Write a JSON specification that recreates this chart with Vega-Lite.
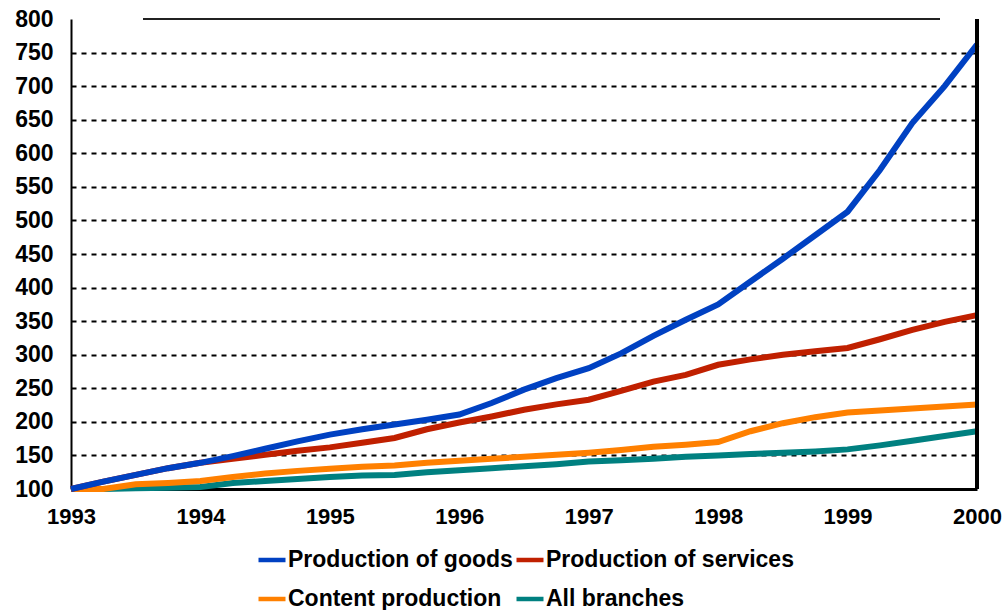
{
  "$schema": "https://vega.github.io/schema/vega-lite/v6.json",
  "width": 906,
  "height": 470,
  "autosize": "none",
  "padding": {"left": 71, "top": 19, "right": 30, "bottom": 121},
  "background": "white",
  "config": {
    "view": {"stroke": null},
    "font": "Liberation Sans"
  },
  "data": {
    "values": [
      {"year": 1993.00, "series": "All branches", "value": 100},
      {"year": 1993.25, "series": "All branches", "value": 100},
      {"year": 1993.50, "series": "All branches", "value": 101},
      {"year": 1993.75, "series": "All branches", "value": 102},
      {"year": 1994.00, "series": "All branches", "value": 103},
      {"year": 1994.25, "series": "All branches", "value": 109},
      {"year": 1994.50, "series": "All branches", "value": 112},
      {"year": 1994.75, "series": "All branches", "value": 115},
      {"year": 1995.00, "series": "All branches", "value": 118},
      {"year": 1995.25, "series": "All branches", "value": 120},
      {"year": 1995.50, "series": "All branches", "value": 121},
      {"year": 1995.75, "series": "All branches", "value": 125},
      {"year": 1996.00, "series": "All branches", "value": 128},
      {"year": 1996.25, "series": "All branches", "value": 131},
      {"year": 1996.50, "series": "All branches", "value": 134},
      {"year": 1996.75, "series": "All branches", "value": 137},
      {"year": 1997.00, "series": "All branches", "value": 141},
      {"year": 1997.25, "series": "All branches", "value": 143},
      {"year": 1997.50, "series": "All branches", "value": 145},
      {"year": 1997.75, "series": "All branches", "value": 148},
      {"year": 1998.00, "series": "All branches", "value": 150},
      {"year": 1998.25, "series": "All branches", "value": 152},
      {"year": 1998.50, "series": "All branches", "value": 154},
      {"year": 1998.75, "series": "All branches", "value": 156},
      {"year": 1999.00, "series": "All branches", "value": 159},
      {"year": 1999.25, "series": "All branches", "value": 165},
      {"year": 1999.50, "series": "All branches", "value": 172},
      {"year": 1999.75, "series": "All branches", "value": 179},
      {"year": 2000.00, "series": "All branches", "value": 186},

      {"year": 1993.00, "series": "Content production", "value": 100},
      {"year": 1993.25, "series": "Content production", "value": 100},
      {"year": 1993.50, "series": "Content production", "value": 107},
      {"year": 1993.75, "series": "Content production", "value": 109},
      {"year": 1994.00, "series": "Content production", "value": 112},
      {"year": 1994.25, "series": "Content production", "value": 118},
      {"year": 1994.50, "series": "Content production", "value": 123},
      {"year": 1994.75, "series": "Content production", "value": 127},
      {"year": 1995.00, "series": "Content production", "value": 130},
      {"year": 1995.25, "series": "Content production", "value": 133},
      {"year": 1995.50, "series": "Content production", "value": 135},
      {"year": 1995.75, "series": "Content production", "value": 139},
      {"year": 1996.00, "series": "Content production", "value": 142},
      {"year": 1996.25, "series": "Content production", "value": 145},
      {"year": 1996.50, "series": "Content production", "value": 148},
      {"year": 1996.75, "series": "Content production", "value": 151},
      {"year": 1997.00, "series": "Content production", "value": 154},
      {"year": 1997.25, "series": "Content production", "value": 158},
      {"year": 1997.50, "series": "Content production", "value": 163},
      {"year": 1997.75, "series": "Content production", "value": 166},
      {"year": 1998.00, "series": "Content production", "value": 170},
      {"year": 1998.25, "series": "Content production", "value": 186},
      {"year": 1998.50, "series": "Content production", "value": 198},
      {"year": 1998.75, "series": "Content production", "value": 207},
      {"year": 1999.00, "series": "Content production", "value": 214},
      {"year": 1999.25, "series": "Content production", "value": 217},
      {"year": 1999.50, "series": "Content production", "value": 220},
      {"year": 1999.75, "series": "Content production", "value": 223},
      {"year": 2000.00, "series": "Content production", "value": 226},

      {"year": 1993.00, "series": "Production of services", "value": 100},
      {"year": 1993.25, "series": "Production of services", "value": 111},
      {"year": 1993.50, "series": "Production of services", "value": 121},
      {"year": 1993.75, "series": "Production of services", "value": 131},
      {"year": 1994.00, "series": "Production of services", "value": 139},
      {"year": 1994.25, "series": "Production of services", "value": 145},
      {"year": 1994.50, "series": "Production of services", "value": 151},
      {"year": 1994.75, "series": "Production of services", "value": 157},
      {"year": 1995.00, "series": "Production of services", "value": 162},
      {"year": 1995.25, "series": "Production of services", "value": 169},
      {"year": 1995.50, "series": "Production of services", "value": 176},
      {"year": 1995.75, "series": "Production of services", "value": 189},
      {"year": 1996.00, "series": "Production of services", "value": 199},
      {"year": 1996.25, "series": "Production of services", "value": 208},
      {"year": 1996.50, "series": "Production of services", "value": 218},
      {"year": 1996.75, "series": "Production of services", "value": 226},
      {"year": 1997.00, "series": "Production of services", "value": 233},
      {"year": 1997.25, "series": "Production of services", "value": 246},
      {"year": 1997.50, "series": "Production of services", "value": 260},
      {"year": 1997.75, "series": "Production of services", "value": 270},
      {"year": 1998.00, "series": "Production of services", "value": 285},
      {"year": 1998.25, "series": "Production of services", "value": 293},
      {"year": 1998.50, "series": "Production of services", "value": 300},
      {"year": 1998.75, "series": "Production of services", "value": 305},
      {"year": 1999.00, "series": "Production of services", "value": 310},
      {"year": 1999.25, "series": "Production of services", "value": 323},
      {"year": 1999.50, "series": "Production of services", "value": 337},
      {"year": 1999.75, "series": "Production of services", "value": 349},
      {"year": 2000.00, "series": "Production of services", "value": 359},

      {"year": 1993.00, "series": "Production of goods", "value": 100},
      {"year": 1993.25, "series": "Production of goods", "value": 111},
      {"year": 1993.50, "series": "Production of goods", "value": 121},
      {"year": 1993.75, "series": "Production of goods", "value": 131},
      {"year": 1994.00, "series": "Production of goods", "value": 139},
      {"year": 1994.25, "series": "Production of goods", "value": 149},
      {"year": 1994.50, "series": "Production of goods", "value": 160},
      {"year": 1994.75, "series": "Production of goods", "value": 171},
      {"year": 1995.00, "series": "Production of goods", "value": 181},
      {"year": 1995.25, "series": "Production of goods", "value": 189},
      {"year": 1995.50, "series": "Production of goods", "value": 196},
      {"year": 1995.75, "series": "Production of goods", "value": 203},
      {"year": 1996.00, "series": "Production of goods", "value": 211},
      {"year": 1996.25, "series": "Production of goods", "value": 228},
      {"year": 1996.50, "series": "Production of goods", "value": 248},
      {"year": 1996.75, "series": "Production of goods", "value": 265},
      {"year": 1997.00, "series": "Production of goods", "value": 280},
      {"year": 1997.25, "series": "Production of goods", "value": 302},
      {"year": 1997.50, "series": "Production of goods", "value": 328},
      {"year": 1997.75, "series": "Production of goods", "value": 352},
      {"year": 1998.00, "series": "Production of goods", "value": 375},
      {"year": 1998.25, "series": "Production of goods", "value": 409},
      {"year": 1998.50, "series": "Production of goods", "value": 443},
      {"year": 1998.75, "series": "Production of goods", "value": 478},
      {"year": 1999.00, "series": "Production of goods", "value": 513},
      {"year": 1999.25, "series": "Production of goods", "value": 575},
      {"year": 1999.50, "series": "Production of goods", "value": 645},
      {"year": 1999.75, "series": "Production of goods", "value": 700},
      {"year": 2000.00, "series": "Production of goods", "value": 762}
    ]
  },
  "layer": [
    {
      "mark": {"type": "line", "strokeWidth": 6, "clip": false},
      "encoding": {
        "x": {
          "field": "year",
          "type": "quantitative",
          "scale": {"domain": [1993, 2000], "nice": false, "zero": false},
          "axis": {
            "title": null,
            "values": [1993, 1994, 1995, 1996, 1997, 1998, 1999, 2000],
            "format": "d",
            "grid": false,
            "ticks": false,
            "domainColor": "black",
            "domainWidth": 3,
            "labelFont": "Liberation Sans",
            "labelFontSize": 22,
            "labelFontWeight": "bold",
            "labelColor": "black",
            "labelPadding": 17,
            "labelFlush": false,
            "labelOverlap": false
          }
        },
        "y": {
          "field": "value",
          "type": "quantitative",
          "scale": {"domain": [100, 800], "nice": false, "zero": false},
          "axis": {
            "title": null,
            "values": [100, 150, 200, 250, 300, 350, 400, 450, 500, 550, 600, 650, 700, 750, 800],
            "format": "d",
            "grid": true,
            "gridColor": "black",
            "gridDash": [5, 5],
            "gridWidth": 1.8,
            "gridOpacity": {"condition": {"test": "datum.value >= 800 || datum.value <= 100", "value": 0}, "value": 1},
            "ticks": false,
            "domainColor": "black",
            "domainWidth": 2,
            "labelFont": "Liberation Sans",
            "labelFontSize": 23,
            "labelFontWeight": "bold",
            "labelColor": "black",
            "labelPadding": 18,
            "labelFlush": false,
            "labelOverlap": false
          }
        },
        "color": {
          "field": "series",
          "type": "nominal",
          "scale": {
            "domain": ["Production of goods", "Production of services", "Content production", "All branches"],
            "range": ["#0041C2", "#C02000", "#FF8000", "#008080"]
          },
          "legend": {
            "orient": "none",
            "legendX": 185,
            "legendY": 525,
            "direction": "horizontal",
            "columns": 2,
            "title": null,
            "symbolType": "stroke",
            "symbolStrokeWidth": 4.5,
            "symbolSize": 729,
            "labelFont": "Liberation Sans",
            "labelFontSize": 23,
            "labelFontWeight": "bold",
            "labelColor": "black",
            "labelOffset": 0,
            "labelLimit": 400,
            "rowPadding": 11,
            "columnPadding": -6
          }
        },
        "order": {"field": "year", "type": "quantitative"}
      }
    },
    {
      "mark": {"type": "rule", "color": "#222222", "strokeWidth": 1.5},
      "encoding": {
        "x": {
          "datum": 1993.56,
          "type": "quantitative",
          "axis": {
            "title": null,
            "values": [1993, 1994, 1995, 1996, 1997, 1998, 1999, 2000],
            "format": "d",
            "grid": false,
            "ticks": false,
            "domainColor": "black",
            "domainWidth": 3,
            "labelFont": "Liberation Sans",
            "labelFontSize": 22,
            "labelFontWeight": "bold",
            "labelColor": "black",
            "labelPadding": 17,
            "labelFlush": false,
            "labelOverlap": false
          }
        },
        "x2": {"datum": 1999.71},
        "y": {
          "datum": 800,
          "type": "quantitative",
          "axis": {
            "title": null,
            "values": [100, 150, 200, 250, 300, 350, 400, 450, 500, 550, 600, 650, 700, 750, 800],
            "format": "d",
            "grid": true,
            "gridColor": "black",
            "gridDash": [5, 5],
            "gridWidth": 1.8,
            "gridOpacity": {"condition": {"test": "datum.value >= 800 || datum.value <= 100", "value": 0}, "value": 1},
            "ticks": false,
            "domainColor": "black",
            "domainWidth": 2,
            "labelFont": "Liberation Sans",
            "labelFontSize": 23,
            "labelFontWeight": "bold",
            "labelColor": "black",
            "labelPadding": 18,
            "labelFlush": false,
            "labelOverlap": false
          }
        }
      }
    },
    {
      "mark": {"type": "rule", "color": "black", "strokeWidth": 2.5},
      "encoding": {
        "x": {
          "datum": 2000,
          "type": "quantitative",
          "axis": {
            "title": null,
            "values": [1993, 1994, 1995, 1996, 1997, 1998, 1999, 2000],
            "format": "d",
            "grid": false,
            "ticks": false,
            "domainColor": "black",
            "domainWidth": 3,
            "labelFont": "Liberation Sans",
            "labelFontSize": 22,
            "labelFontWeight": "bold",
            "labelColor": "black",
            "labelPadding": 17,
            "labelFlush": false,
            "labelOverlap": false
          }
        },
        "y": {
          "datum": 100,
          "type": "quantitative",
          "axis": {
            "title": null,
            "values": [100, 150, 200, 250, 300, 350, 400, 450, 500, 550, 600, 650, 700, 750, 800],
            "format": "d",
            "grid": true,
            "gridColor": "black",
            "gridDash": [5, 5],
            "gridWidth": 1.8,
            "gridOpacity": {"condition": {"test": "datum.value >= 800 || datum.value <= 100", "value": 0}, "value": 1},
            "ticks": false,
            "domainColor": "black",
            "domainWidth": 2,
            "labelFont": "Liberation Sans",
            "labelFontSize": 23,
            "labelFontWeight": "bold",
            "labelColor": "black",
            "labelPadding": 18,
            "labelFlush": false,
            "labelOverlap": false
          }
        },
        "y2": {"datum": 800}
      }
    }
  ]
}
